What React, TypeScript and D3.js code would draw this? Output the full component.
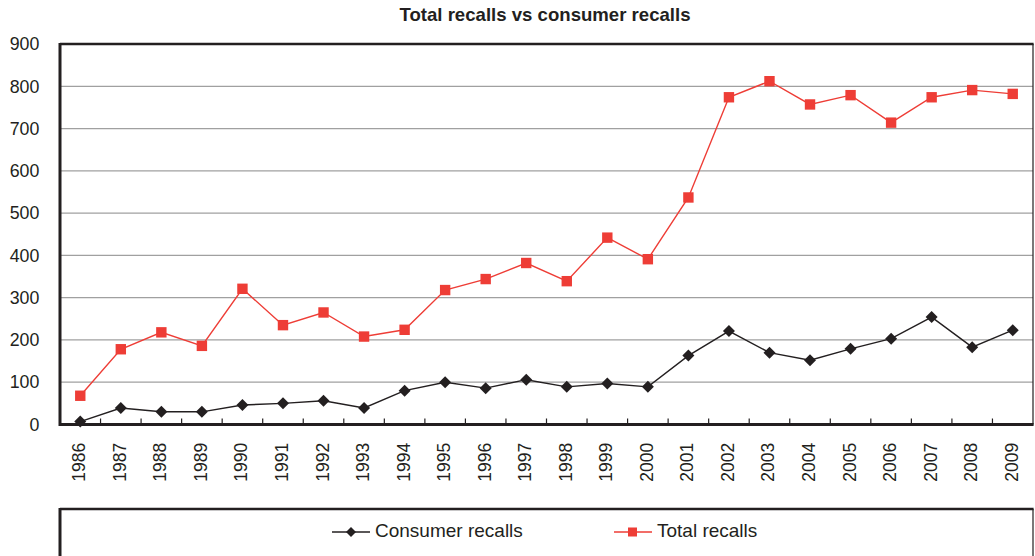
import React from "react";
import * as d3 from "d3";

const years = ["1986","1987","1988","1989","1990","1991","1992","1993","1994","1995","1996","1997","1998","1999","2000","2001","2002","2003","2004","2005","2006","2007","2008","2009"];
const totalRecalls = [68,178,218,186,321,235,265,208,224,318,344,382,339,442,391,537,774,812,757,779,714,774,791,782];
const consumerRecalls = [7,39,30,30,46,50,56,39,80,100,86,106,89,97,89,163,221,170,152,179,203,254,183,223];
const yTicks = [0,100,200,300,400,500,600,700,800,900];

const W = 1035, H = 556;
const L = 60, R = 1033, T = 44, B = 424.5;
const ink = "#231f20";
const red = "#ee3d36";
const font = "Liberation Sans, Arial, sans-serif";

export default function App() {
  const x = d3.scaleBand<string>().domain(years).range([L, R]);
  const y = d3.scaleLinear().domain([0, 900]).range([B, T]);
  const cx = (d: string) => (x(d) as number) + x.bandwidth() / 2;
  const line = d3.line<number>().x((_, i) => cx(years[i])).y((v) => y(v));
  const diamond = (px: number, py: number, r = 6) =>
    `M${px},${py - r}L${px + r},${py}L${px},${py + r}L${px - r},${py}Z`;

  return (
    <svg width={W} height={H} style={{ position: "absolute", left: 0, top: 0, background: "#fff" }} fontFamily={font}>
      <text x={545} y={20.5} textAnchor="middle" fontWeight="bold" fontSize={18.6} fill={ink}>Total recalls vs consumer recalls</text>
      {yTicks.slice(1, -1).map((t) => (
        <line key={t} x1={L} x2={R} y1={y(t)} y2={y(t)} stroke="#a0a0a0" strokeWidth={1.3} />
      ))}
      {yTicks.map((t) => (
        <text key={t} x={39.3} y={y(t)} dy="0.35em" textAnchor="end" fontSize={17.8} fill={ink}>{t}</text>
      ))}
      {years.slice(1).map((yr) => (
        <line key={yr} x1={x(yr) as number} x2={x(yr) as number} y1={B} y2={B - 6} stroke={ink} strokeWidth={1.2} />
      ))}
      {years.map((yr) => (
        <text key={yr} transform={`translate(${cx(yr) + 5},442.7) rotate(-90)`} textAnchor="end" fontSize={17.5} fill={ink}>{yr}</text>
      ))}
      <line x1={R} x2={R} y1={T} y2={B} stroke={ink} strokeWidth={1.2} />
      <line x1={L} x2={R + 0.6} y1={T} y2={T} stroke={ink} strokeWidth={2.5} />
      <line x1={L} x2={L} y1={T - 1} y2={B + 1.5} stroke={ink} strokeWidth={3} />
      <line x1={L} x2={R + 0.6} y1={B} y2={B} stroke={ink} strokeWidth={3} />

      <path d={line(totalRecalls) || ""} fill="none" stroke={red} strokeWidth={1.4} />
      {totalRecalls.map((v, i) => (
        <rect key={i} x={cx(years[i]) - 5.2} y={y(v) - 5.2} width={10.4} height={10.4} fill={red} />
      ))}
      <path d={line(consumerRecalls) || ""} fill="none" stroke={ink} strokeWidth={1.4} />
      {consumerRecalls.map((v, i) => (
        <path key={i} d={diamond(cx(years[i]), y(v))} fill={ink} />
      ))}

      <line x1={R} x2={R} y1={509} y2={H} stroke={ink} strokeWidth={1.2} />
      <line x1={L} x2={R + 0.6} y1={509} y2={509} stroke={ink} strokeWidth={2.5} />
      <line x1={L} x2={L} y1={508} y2={H} stroke={ink} strokeWidth={3} />
      <line x1={332} x2={370} y1={532} y2={532} stroke={ink} strokeWidth={1.4} />
      <path d={diamond(351, 532, 5)} fill={ink} />
      <text x={375} y={537.3} fontSize={19} fill={ink}>Consumer recalls</text>
      <line x1={614} x2={652} y1={532} y2={532} stroke={red} strokeWidth={1.4} />
      <rect x={628} y={527.5} width={9} height={9} fill={red} />
      <text x={657} y={537.3} fontSize={19} fill={ink}>Total recalls</text>
    </svg>
  );
}
